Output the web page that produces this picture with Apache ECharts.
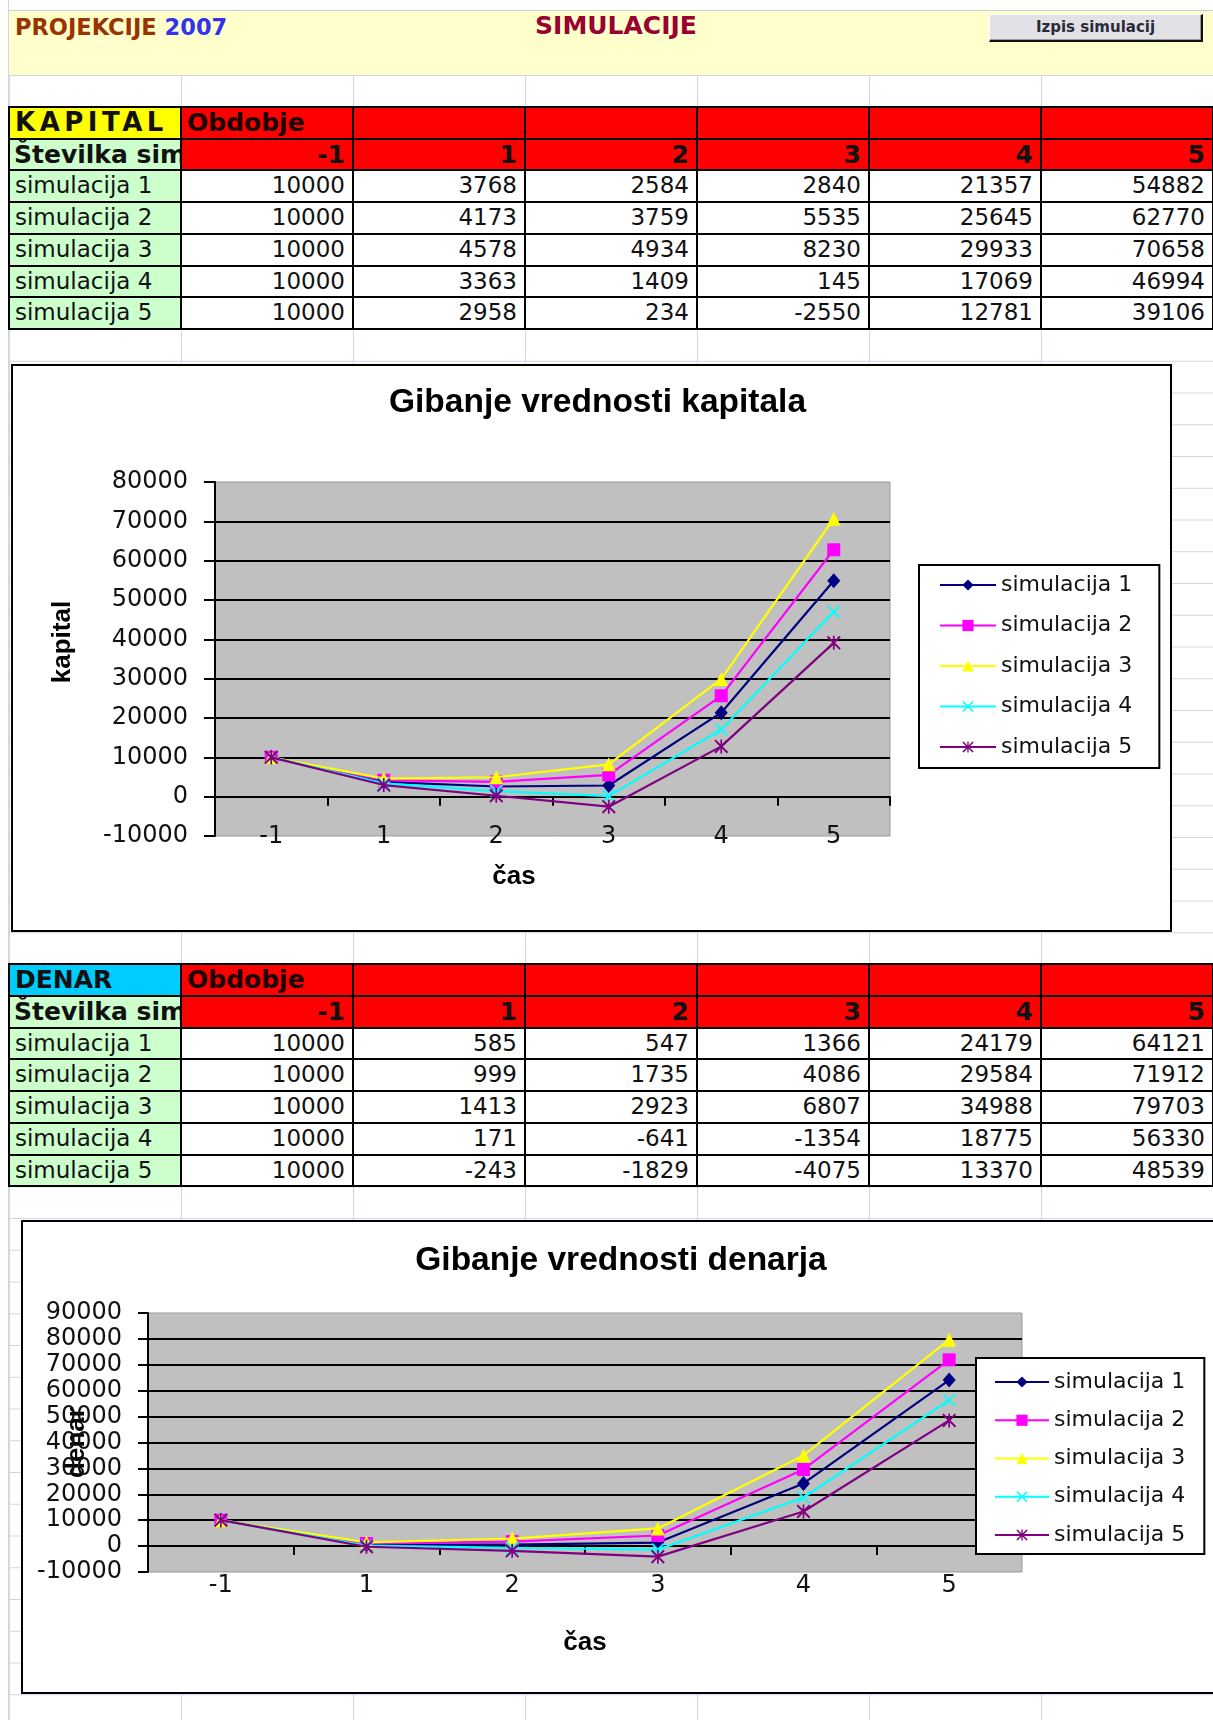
<!DOCTYPE html>
<html>
<head>
<meta charset="utf-8">
<script src="https://cdn.jsdelivr.net/npm/echarts@6/dist/echarts.min.js"></script>
<style>
html,body{margin:0;padding:0;width:1213px;height:1720px;overflow:hidden;background:#fff;position:relative;font-family:'DejaVu Sans',sans-serif;}
.abs{position:absolute;}
#sheet{left:9px;top:75px;width:1210px;height:1645px;
  background-image:linear-gradient(to right,#CFD6E4 1px,transparent 1px),linear-gradient(to bottom,#CFD6E4 1px,transparent 1px);
  background-size:172px 31.75px;}
#leftline{left:8px;top:0;width:1px;height:1720px;background:#CFD6E4;}
#band{left:9px;top:10px;width:1210px;height:65px;background:#FFFFCC;border-top:1px solid #C6D0E0;box-sizing:border-box;}
.hdr{font-weight:bold;white-space:nowrap;line-height:26px;}
#btn{left:989px;top:14px;width:214px;height:28px;box-sizing:border-box;background:#E2E1E6;
  border-top:1px solid #fff;border-left:1px solid #fff;border-right:2px solid #111;border-bottom:2px solid #111;
  box-shadow:inset -1px -1px 0 #9a9a9a;font-weight:bold;font-size:15px;line-height:25px;text-align:center;color:#2a2a3a;}
.cell{position:absolute;box-sizing:border-box;border:2px solid #000;overflow:hidden;white-space:nowrap;font-size:23px;color:#111;}
.cell.r{text-align:right;padding-right:7px;}
.cell.l{text-align:left;padding-left:5px;}
.cell.b{font-weight:bold;font-size:25px;}
.chart{position:absolute;background:#fff;}
.frame{position:absolute;box-sizing:border-box;border:2px solid #000;pointer-events:none;}
</style>
</head>
<body>
<div id="sheet" class="abs"></div>
<div id="leftline" class="abs"></div>
<div id="band" class="abs"></div>
<div class="abs hdr" style="left:15px;top:14px;font-size:22.5px;color:#993300;">PROJEKCIJE <span style="color:#3333EE">2007</span></div>
<div class="abs hdr" style="left:516px;width:200px;text-align:center;top:13px;font-size:25px;color:#990033;">SIMULACIJE</div>
<div id="btn" class="abs">Izpis simulacij</div>
<div id="tables"></div>
<div id="c1" class="chart" style="left:11px;top:364px;width:1161px;height:568px;"></div>
<div class="frame" style="left:11px;top:364px;width:1161px;height:568px;"></div>
<div id="c2" class="chart" style="left:21px;top:1220px;width:1200px;height:474px;"></div>
<div class="frame" style="left:21px;top:1220px;width:1200px;height:474px;"></div>
<script>
// ---------- data ----------
const periods = ['-1', '1', '2', '3', '4', '5'];
const simNames = ['simulacija 1', 'simulacija 2', 'simulacija 3', 'simulacija 4', 'simulacija 5'];

const kapitalSim1 = [10000, 3768, 2584, 2840, 21357, 54882];
const kapitalSim2 = [10000, 4173, 3759, 5535, 25645, 62770];
const kapitalSim3 = [10000, 4578, 4934, 8230, 29933, 70658];
const kapitalSim4 = [10000, 3363, 1409, 145, 17069, 46994];
const kapitalSim5 = [10000, 2958, 234, -2550, 12781, 39106];

const denarSim1 = [10000, 585, 547, 1366, 24179, 64121];
const denarSim2 = [10000, 999, 1735, 4086, 29584, 71912];
const denarSim3 = [10000, 1413, 2923, 6807, 34988, 79703];
const denarSim4 = [10000, 171, -641, -1354, 18775, 56330];
const denarSim5 = [10000, -243, -1829, -4075, 13370, 48539];

const kapitalTicks = [-10000, 80000, 10000];
const denarTicks = [-10000, 90000, 10000];

// ---------- spreadsheet tables ----------
const COL0 = 9, COLW = 172, ROW0 = 75, ROWH = 31.75;
function rowY(i){ return ROW0 + i * ROWH; }
function addCell(c, r, text, cls, bg, extra){
  const d = document.createElement('div');
  d.className = 'cell ' + cls;
  const x = COL0 + c * COLW, y = rowY(r);
  d.style.left = (x - 1) + 'px';
  d.style.top = (y - 1) + 'px';
  d.style.width = (COLW + 2) + 'px';
  d.style.height = (ROWH + 2) + 'px';
  d.style.lineHeight = (ROWH - 2) + 'px';
  d.style.background = bg;
  if (extra) Object.assign(d.style, extra);
  d.textContent = text;
  document.getElementById('tables').appendChild(d);
}
function buildTable(startRow, label, labelBg, labelExtra, rows){
  addCell(0, startRow, label, 'l b', labelBg, labelExtra);
  addCell(1, startRow, 'Obdobje', 'l b', '#FF0000', {color:'#1a0000'});
  for (let c = 2; c <= 6; c++) addCell(c, startRow, '', 'l', '#FF0000');
  addCell(0, startRow + 1, 'Številka sim', 'l b', '#CCFFCC', {paddingLeft:'4px'});
  periods.forEach((p, i) => addCell(i + 1, startRow + 1, p, 'r b', '#FF0000'));
  rows.forEach((vals, k) => {
    addCell(0, startRow + 2 + k, simNames[k], 'l', '#CCFFCC');
    vals.forEach((v, i) => addCell(i + 1, startRow + 2 + k, String(v), 'r', '#FFFFFF'));
  });
}
buildTable(1, 'KAPITAL', '#FFFF00', {letterSpacing:'4.5px', fontSize:'26px'}, [kapitalSim1, kapitalSim2, kapitalSim3, kapitalSim4, kapitalSim5]);
buildTable(28, 'DENAR', '#00CCFF', null, [denarSim1, denarSim2, denarSim3, denarSim4, denarSim5]);

// ---------- charts ----------
const SYM_X = 'path://M0,1L1,0L5,4L9,0L10,1L6,5L10,9L9,10L5,6L1,10L0,9L4,5Z';
const SYM_STAR = 'path://M0,1L1,0L5,4L9,0L10,1L6,5L10,9L9,10L5,6L1,10L0,9L4,5ZM4.4,0L5.6,0L5.6,4L4.4,4ZM4.4,6L5.6,6L5.6,10L4.4,10Z';
const seriesStyles = [
  {color:'#000080', symbol:'diamond', size:[13,15]},
  {color:'#FF00FF', symbol:'rect', size:13},
  {color:'#FFFF00', symbol:'triangle', size:14},
  {color:'#00FFFF', symbol:SYM_X, size:13},
  {color:'#800080', symbol:SYM_STAR, size:14}
];

function makeOption(cfg){
  return {
    animation: false,
    backgroundColor: '#fff',
    title: {
      text: cfg.title, left: cfg.titleLeft, top: cfg.titleTop, padding: 0,
      textStyle: {fontFamily: 'Liberation Sans', fontWeight: 'bold', fontSize: 33.5, color: '#000'}
    },
    legend: {
      orient: 'vertical', left: cfg.legend.left, top: cfg.legend.top, padding: cfg.legend.padding,
      itemWidth: cfg.legend.itemWidth, itemHeight: 14, itemGap: cfg.legend.itemGap,
      borderColor: '#000', borderWidth: 2, backgroundColor: '#fff', selectedMode: false,
      textStyle: {fontFamily: 'DejaVu Sans', fontSize: 22, lineHeight: 22, color: '#111'},
      data: simNames
    },
    grid: {show: true, left: cfg.grid.left, top: cfg.grid.top, width: cfg.grid.width, height: cfg.grid.height,
      backgroundColor: '#C0C0C0', borderColor: '#9A9A9A', borderWidth: 1, containLabel: false},
    xAxis: {
      type: 'category', data: periods, boundaryGap: true, position: 'bottom',
      axisLine: {show: true, onZero: true, lineStyle: {color: '#000', width: 2}},
      axisTick: {show: true, length: 9, alignWithLabel: false, lineStyle: {color: '#000', width: 2}},
      axisLabel: {interval: 0, margin: cfg.xLabelMargin, verticalAlign: 'middle',
        fontFamily: 'DejaVu Sans', fontSize: 24, color: '#111'},
      splitLine: {show: false},
      name: 'čas', nameLocation: 'middle', nameGap: cfg.xNameGap, nameMoveOverlap: false,
      nameTextStyle: {fontFamily: 'Liberation Sans', fontWeight: 'bold', fontSize: 26, color: '#000', padding: cfg.xNamePad}
    },
    yAxis: {
      type: 'value', min: cfg.ticks[0], max: cfg.ticks[1], interval: cfg.ticks[2],
      axisLine: {show: true, lineStyle: {color: '#000', width: 2}},
      axisTick: {show: true, length: cfg.yTickLen, lineStyle: {color: '#000', width: 2}},
      axisLabel: {margin: cfg.yLabelMargin, fontFamily: 'DejaVu Sans', fontSize: 24, color: '#111',
        formatter: v => String(v)},
      splitLine: {show: true, showMinLine: false, showMaxLine: false, lineStyle: {color: '#000', width: 2}},
      name: cfg.yName, nameLocation: 'middle', nameRotate: 90, nameGap: cfg.yNameGap, nameMoveOverlap: false,
      nameTextStyle: {fontFamily: 'Liberation Sans', fontWeight: 'bold', fontSize: 26, color: '#000', padding: cfg.yNamePad}
    },
    series: cfg.data.map((arr, i) => ({
      name: simNames[i], type: 'line', data: arr,
      symbol: seriesStyles[i].symbol, symbolSize: seriesStyles[i].size, showAllSymbol: true,
      color: seriesStyles[i].color,
      lineStyle: {color: seriesStyles[i].color, width: 2.2},
      itemStyle: {color: seriesStyles[i].color, borderWidth: 0},
      emphasis: {disabled: true}, z: 2 + i
    }))
  };
}

const chart1 = echarts.init(document.getElementById('c1'));
chart1.setOption(makeOption({
  title: 'Gibanje vrednosti kapitala', titleLeft: 378, titleTop: 22,
  grid: {left: 204, top: 118, width: 675, height: 354},
  ticks: kapitalTicks, yTickLen: 11, yLabelMargin: 27, xLabelMargin: 1,
  xNameGap: 28, xNamePad: [0, 77, 0, 0],
  yName: 'kapital', yNameGap: 139, yNamePad: [0, 0, 0, 34],
  legend: {left: 908, top: 201, padding: [9, 27, 10, 20], itemWidth: 56, itemGap: 18.5},
  data: [kapitalSim1, kapitalSim2, kapitalSim3, kapitalSim4, kapitalSim5]
}));

const chart2 = echarts.init(document.getElementById('c2'));
chart2.setOption(makeOption({
  title: 'Gibanje vrednosti denarja', titleLeft: 'center', titleTop: 24,
  grid: {left: 127, top: 93, width: 874, height: 259},
  ticks: denarTicks, yTickLen: 10, yLabelMargin: 26, xLabelMargin: 14,
  xNameGap: 58, xNamePad: [0, 0, 0, 0],
  yName: 'denar', yNameGap: 58, yNamePad: [0, 0, 0, 0],
  legend: {left: 955, top: 138, padding: [13, 19, 8, 18], itemWidth: 54, itemGap: 16.25},
  data: [denarSim1, denarSim2, denarSim3, denarSim4, denarSim5]
}));
</script>
</body>
</html>
